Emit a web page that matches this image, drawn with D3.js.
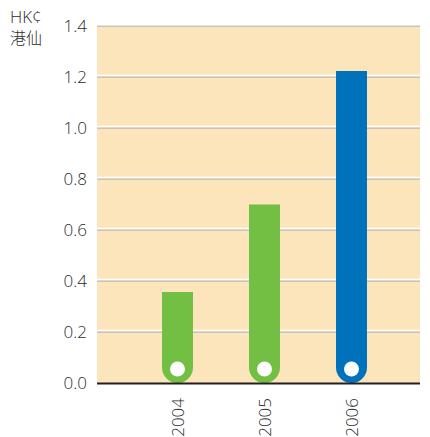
<!DOCTYPE html>
<html><head><meta charset="utf-8">
<script src="https://cdn.jsdelivr.net/npm/d3@7"></script>
<style>body{margin:0;background:#fff}svg{display:block}</style>
</head><body>
<svg id="c" width="430" height="437"></svg>
<script>
const years = ["2004", "2005", "2006"];
const values = [0.357, 0.70, 1.224];
const barColors = ["#72bf44", "#72bf44", "#0072bc"];
const yTicks = [0, 0.2, 0.4, 0.6, 0.8, 1.0, 1.2, 1.4];
const unitLabels = ["HK¢", "港仙"];

(function () {
const svg = d3.select("#c");
const pLeft = 97, pRight = 420, pTop = 26, pBottom = 383;
const y = d3.scaleLinear().domain([0, 1.4]).range([pBottom, pTop]);
const x = d3.scaleBand().domain(years).range([134, 395]).paddingInner(0.644).paddingOuter(0.322);
const font = "'Open Sans', 'Noto Sans CJK TC', sans-serif";
const txt = "#2b2b2b";

svg.append("rect").attr("x", pLeft).attr("y", pTop).attr("width", pRight - pLeft).attr("height", pBottom - pTop).attr("fill", "#fde5bb");

// gridlines
const g = svg.append("g");
yTicks.filter(t => t > 0).forEach(t => {
  g.append("line").attr("x1", pLeft).attr("x2", pRight).attr("y1", y(t) - 1.5).attr("y2", y(t) - 1.5).attr("stroke", "#ffffff").attr("stroke-width", 1.5);
  g.append("line").attr("x1", pLeft).attr("x2", pRight).attr("y1", y(t) + 0.3).attr("y2", y(t) + 0.3).attr("stroke", "#c8c4bd").attr("stroke-width", 1.5);
});

// y axis labels
const yAxis = d3.axisLeft(y).tickValues(yTicks).tickFormat(d3.format(".1f")).tickSize(0).tickPadding(10);
const ya = svg.append("g").attr("transform", `translate(${pLeft},0)`).call(yAxis);
ya.select(".domain").remove();
ya.selectAll("text").attr("font-family", font).attr("font-size", 17).attr("font-weight", 300).attr("fill", txt);

// bars with rounded bottoms
const bw = x.bandwidth();
const r = bw / 2;
years.forEach((yr, i) => {
  const x0 = x(yr), yTop = y(values[i]);
  const yb = pBottom - r;
  const p = d3.path();
  p.moveTo(x0, yTop);
  p.lineTo(x0 + bw, yTop);
  p.lineTo(x0 + bw, yb);
  p.arc(x0 + r, yb, r, 0, Math.PI, false);
  p.closePath();
  svg.append("path").attr("d", p.toString()).attr("fill", barColors[i]);
  svg.append("circle").attr("cx", x0 + r).attr("cy", pBottom - 14).attr("r", 7.5).attr("fill", "#fff");
});

// baseline
svg.append("line").attr("x1", pLeft).attr("x2", pRight).attr("y1", pBottom + 0.5).attr("y2", pBottom + 0.5).attr("stroke", "#231f20").attr("stroke-width", 2);

// x axis labels
const xAxis = d3.axisBottom(x).tickSize(0).tickPadding(0);
const xa = svg.append("g").attr("transform", `translate(0,${pBottom})`).call(xAxis);
xa.select(".domain").remove();
xa.selectAll("text")
  .attr("font-family", font).attr("font-size", 17).attr("font-weight", 300).attr("fill", txt)
  .attr("transform", "rotate(-90)").attr("text-anchor", "end")
  .attr("x", -15).attr("y", 0).attr("dy", "0.36em");

// unit labels
svg.selectAll("text.unit").data(unitLabels).join("text").attr("class", "unit")
  .attr("x", 10).attr("y", (d, i) => 23 + i * 21)
  .attr("font-family", font).attr("font-size", (d, i) => i === 0 ? 17 : 16).attr("font-weight", 300).attr("fill", txt).text(d => d);
})();
</script>
</body></html>
